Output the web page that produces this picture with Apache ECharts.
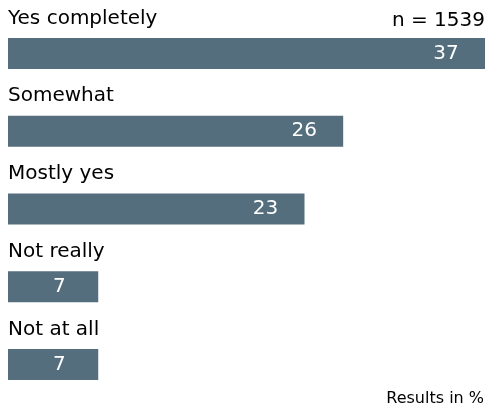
<!DOCTYPE html>
<html>
<head>
<meta charset="utf-8">
<script src="https://cdn.jsdelivr.net/npm/echarts@6/dist/echarts.min.js"></script>
<style>
  html, body { margin: 0; padding: 0; background: #fff; }
  #chart { width: 487px; height: 405px; }
</style>
</head>
<body>
<div id="chart"></div>
<script>
// answer categories, top to bottom
var categories = ['Yes completely', 'Somewhat', 'Mostly yes', 'Not really', 'Not at all'];
// percent of respondents
var values = [37, 26, 23, 7, 7];
var sampleText = 'n = 1539';
var unitText = 'Results in %';

var font = 'DejaVu Sans';
var barColor = '#546e7e';

var myChart = echarts.init(document.getElementById('chart'));

var option = {
    backgroundColor: '#fff',
    animation: false,
    title: [{
        text: sampleText,
        right: 2,
        top: 11,
        padding: 0,
        textStyle: { fontFamily: font, fontSize: 20, fontWeight: 'normal', color: '#000' }
    }, {
        text: unitText,
        right: 3,
        top: 391,
        padding: 0,
        textStyle: { fontFamily: font, fontSize: 16, fontWeight: 'normal', color: '#000' }
    }],
    grid: {
        left: 8,
        right: 2,
        top: 14.6,
        bottom: 1.6
    },
    xAxis: {
        type: 'value',
        min: 0,
        max: 37,
        show: false
    },
    yAxis: {
        type: 'category',
        data: categories,
        inverse: true,
        axisLine: { show: false },
        axisTick: { show: false },
        splitLine: { show: false },
        axisLabel: {
            inside: true,
            margin: 0,
            align: 'left',
            verticalAlign: 'bottom',
            padding: [0, 0, 25, 0],
            fontFamily: font,
            fontSize: 20,
            color: '#000'
        }
    },
    series: [{
        type: 'bar',
        data: values,
        barWidth: 31,
        itemStyle: { color: barColor },
        label: {
            show: true,
            position: 'insideRight',
            distance: 39,
            align: 'center',
            fontFamily: font,
            fontSize: 20,
            color: '#fff'
        }
    }]
};

myChart.setOption(option);
</script>
</body>
</html>
